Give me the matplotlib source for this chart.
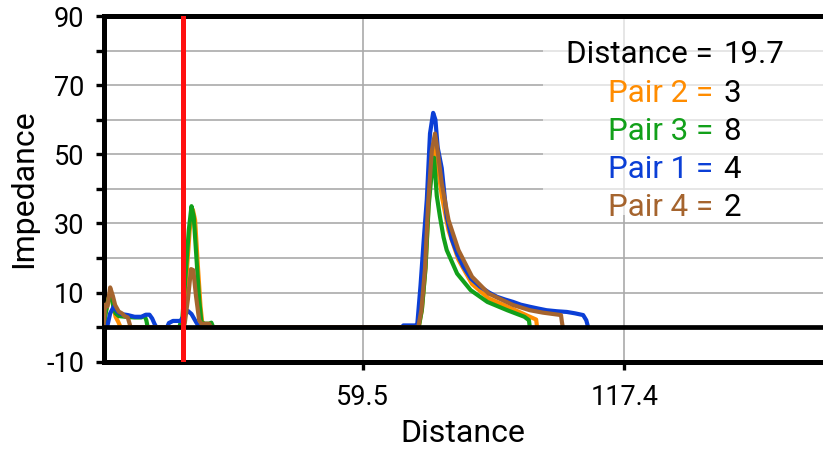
import matplotlib
matplotlib.use("Agg")
import matplotlib.pyplot as plt
from matplotlib.patches import Rectangle

plt.rcParams['font.family'] = ['Roboto', 'DejaVu Sans']

# cable trace readings, one list of (distance, impedance) points per pair
pair2_x = [2.1, 2.6, 3.2, 3.7, 4.3, 4.8, 5.4, 5.9,
           19.0, 19.8, 20.5, 21.2, 21.9, 22.4, 23.0, 23.6, 24.0, 24.6,
           71.9, 72.6, 73.4, 74.1, 74.9, 75.4, 76.0, 77.0, 78.5, 80.7, 83.7, 87.4, 92.8, 96.0, 97.9, 98.1]
pair2_y = [0, 4, 8, 10.5, 6, 3, 1.5, 0,
           0, 3, 15, 28, 34, 31, 18, 6, 1, 0,
           0, 5, 17, 36, 50, 53, 48, 38, 28, 19.5, 12.5, 8.3, 5.2, 3.3, 2.2, 0]

pair3_x = [2.1, 2.6, 3.2, 3.7, 4.3, 4.8, 5.5, 7.0, 9.0, 10.5, 11.2, 11.6, 11.9,
           18.9, 19.6, 20.3, 21.0, 21.6, 22.1, 22.7, 23.3, 23.8, 24.5, 25.5, 26.0, 26.4,
           71.9, 72.6, 73.4, 74.1, 74.8, 75.3, 75.9, 76.6, 77.4, 78.1, 80.4, 83.4, 87.1, 91.5, 95.3, 96.3, 96.5]
pair3_y = [0, 4, 8, 10, 6, 4, 3.2, 3, 2.8, 2.8, 3.3, 2, 0,
           0, 3, 15, 28, 35, 32, 20, 8, 1.5, 1.0, 1.0, 1.3, 0,
           0, 5, 17, 35, 45, 49, 38, 32, 26, 22.3, 15.5, 10.7, 7.3, 4.9, 3.0, 2.0, 0]

pair1_x = [2.1, 3.0, 3.6, 4.4, 5.2, 6.0, 7.5, 9.0, 10.5, 11.5, 12.3, 12.9, 13.4, 13.8,
           16.2, 16.6, 17.5, 19.2, 20.0, 20.8, 21.6, 22.6, 23.3,
           68.2, 68.5, 71.2, 71.6, 72.3, 73.0, 73.7, 74.4, 75.1, 75.6, 76.1, 77.0, 78.1, 79.2, 80.5,
           81.8, 83.5, 85.5, 87.5, 89.2, 91.0, 92.8, 94.5, 96.5, 98.3, 100.2, 102.5, 104.7, 106.5,
           108.3, 109.0, 109.4]
pair1_y = [0, 0.5, 4, 6, 4.5, 3.8, 3.5, 3.0, 3.0, 3.6, 3.6, 2.5, 1, 0,
           0, 1.2, 1.8, 1.8, 3.5, 4.7, 3.8, 1.5, 0,
           0, 0.5, 0.5, 1, 12, 25, 37, 56, 62, 60, 52, 46, 32, 25.5, 21,
           17.5, 14, 11.7, 10, 8.8, 8, 7.3, 6.5, 5.9, 5.4, 4.9, 4.6, 4.4, 4.0,
           3.5, 2, 0]

pair4_x = [2.1, 2.5, 3.0, 3.6, 4.2, 4.7, 5.5, 6.2, 6.8, 7.5, 7.9, 8.1,
           19.5, 20.1, 20.8, 21.5, 22.0, 22.6, 23.3, 23.8, 25.5, 25.9,
           71.8, 72.5, 73.3, 74.0, 74.8, 75.5, 76.0, 77.0, 78.5, 80.7, 83.7, 87.4, 92.8, 96.5, 99.4,
           103.4, 103.6, 103.8]
pair4_y = [0, 6.5, 6, 11.5, 9, 6.4, 4.5, 4, 3.2, 2.8, 1, 0,
           0, 1, 8, 16.8, 16.5, 9, 2, 1, 1, 0,
           0, 5, 17, 36, 51, 56, 52, 41.6, 31, 22.3, 14.6, 9.7, 6.4, 4.9, 4.2,
           3.5, 1.5, 0]

cursor = 19.7
readings = [("Pair 2", 3), ("Pair 3", 8), ("Pair 1", 4), ("Pair 4", 2)]
colors = {"Pair 1": "#0b3fd6", "Pair 2": "#ff8c00", "Pair 3": "#12a01a", "Pair 4": "#a5642e"}

y_ticks = list(range(-10, 91, 10))
y_labels = [str(v) if v % 20 == 10 else "" for v in y_ticks]
x_ticks = [59.5, 117.4]

fig = plt.figure(figsize=(8.23, 4.55), dpi=100)
ax = fig.add_axes([0.1258, 0.205, 0.8742, 0.7597])

ax.plot(pair2_x, pair2_y, color=colors["Pair 2"], lw=3.0, zorder=3)
ax.plot(pair3_x, pair3_y, color=colors["Pair 3"], lw=3.0, zorder=3)
ax.plot(pair1_x, pair1_y, color=colors["Pair 1"], lw=3.0, zorder=3)
ax.plot(pair4_x, pair4_y, color=colors["Pair 4"], lw=3.0, zorder=3)

ax.axhline(0, color="black", lw=3.4, zorder=4)
ax.axvline(cursor, color="#ff1010", lw=3.6, zorder=6)

ax.set_xlim(2.13, 161.4)
ax.set_ylim(-10, 90)
ax.set_yticks(y_ticks)
ax.set_yticklabels(y_labels)
ax.set_xticks(x_ticks)
ax.set_xticklabels([str(v) for v in x_ticks])
ax.grid(True, color="#aaaaaa", lw=1.2, zorder=0)
ax.set_axisbelow(True)

ax.tick_params(axis="both", length=6, width=2.4, color="black", labelsize=19.5, pad=8)
ax.tick_params(axis="x", pad=10)
for side in ["left", "top", "bottom"]:
    ax.spines[side].set_linewidth(3.6)
ax.spines["right"].set_visible(False)

ax.set_xlabel("Distance", fontsize=23, labelpad=6)
ax.set_ylabel("Impedance", fontsize=23, labelpad=6)

# readout panel over the grid
ax.add_patch(Rectangle((0.611, 0.424), 0.4, 0.6, transform=ax.transAxes,
                       facecolor="white", alpha=0.65, edgecolor="none", zorder=2))
ax.text(137.1, 76.5, "Distance =", ha="right", va="baseline", fontsize=22.5, color="black", zorder=7)
ax.text(139.3, 76.5, f"{cursor}", ha="left", va="baseline", fontsize=22.5, color="black", zorder=7)
for i, (name, val) in enumerate(readings):
    yb = 65.2 - 11.05 * i
    ax.text(137.1, yb, f"{name} =", ha="right", va="baseline", fontsize=22.5, color=colors[name], zorder=7)
    ax.text(139.3, yb, str(val), ha="left", va="baseline", fontsize=22.5, color="black", zorder=7)

fig.savefig("out.png", dpi=100)
